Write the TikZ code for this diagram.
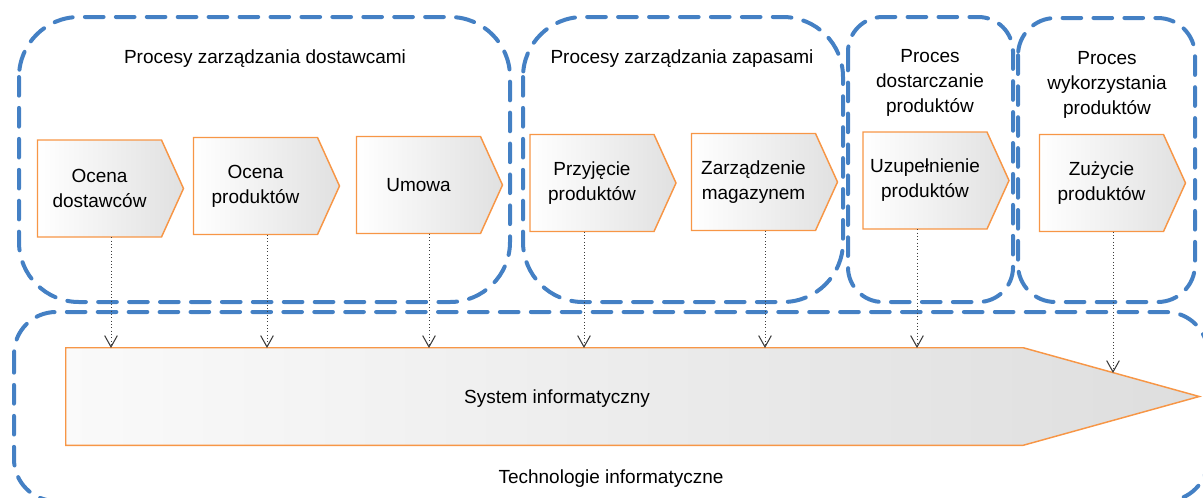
\documentclass[tikz,border=0pt]{standalone}
\usepackage{fontspec}
\setmainfont{Liberation Sans}
\usetikzlibrary{arrows.meta}

\definecolor{grpblue}{RGB}{68,128,196}
\definecolor{stepline}{RGB}{247,150,70}
\definecolor{linkgray}{RGB}{60,60,60}

\tikzset{
  grp/.style={draw=grpblue, line width=3pt, line cap=round,
              dash pattern=on 14pt off 9.2pt},
  title/.style={font=\fontsize{14.25}{18.75}\selectfont, align=center, inner sep=0pt},
  stepshape/.style={draw=stepline, line width=1.1pt, line join=miter,
                    left color=white, right color=black!12},
  sysshape/.style={draw=stepline, line width=1.1pt, line join=miter,
                   left color=black!2, right color=black!13},
  steptext/.style={title, minimum width=93pt, minimum height=72.75pt},
  link/.style={draw=linkgray, line width=0.7pt, dash pattern=on 0.7pt off 1.8pt,
               -{Straight Barb[length=8.5pt,width=9.5pt,line width=0.8pt]}},
}

% process step: chevron body centred at (#2,#3), 124 x 97 units, pointer 22 units
\newcommand\procstep[4]{%
  \path[stepshape] (#2-62,#3-48.5) -- (#2+62,#3-48.5) -- (#2+84,#3)
        -- (#2+62,#3+48.5) -- (#2-62,#3+48.5) -- cycle;
  \node[steptext] (#1) at (#2,#3) {#4};%
}

\begin{document}
\begin{tikzpicture}[x=0.75pt,y=-0.75pt]
\useasboundingbox (0,0) rectangle (1203,497);
\clip (0,0) rectangle (1203,497);

% process groups
\draw[grp, rounded corners=45pt] (19,17) rectangle (510,302);
\draw[grp, rounded corners=45pt] (523,17) rectangle (843,302);
\draw[grp, rounded corners=26pt] (848,17) rectangle (1013,302);
\draw[grp, rounded corners=28pt] (1018,18) rectangle (1195,302);
\draw[grp, rounded corners=31.5pt] (14,312) rectangle (1208,501);

% group titles
\node[title, anchor=base] (g1) at (265,63) {Procesy zarządzania dostawcami};
\node[title, anchor=base] (g2) at (682,63) {Procesy zarządzania zapasami};
\node[title] (g3) at (930,83) {Proces\\dostarczanie\\produktów};
\node[title] (g4) at (1107,85) {Proces\\wykorzystania\\produktów};
\node[title, anchor=base] (g5) at (611,483) {Technologie informatyczne};

% process steps
\procstep{c1}{99.5}{188.5}{Ocena\\dostawców}
\procstep{c2}{255.5}{186}{Ocena\\produktów}
\procstep{c3}{418.5}{185}{Umowa}
\procstep{c4}{592}{183}{Przyjęcie\\produktów}
\procstep{c5}{753.5}{182}{Zarządzenie\\magazynem}
\procstep{c6}{925}{180.5}{Uzupełnienie\\produktów}
\procstep{c7}{1101.5}{183}{Zużycie\\produktów}

% information system arrow
\node[minimum width=717.75pt, minimum height=72.75pt, inner sep=0pt] (sys) at (544.5,396.5) {};
\path[sysshape] (sys.north west) -- (sys.north east) -- ([xshift=132pt]sys.east)
      -- (sys.south east) -- (sys.south west) -- cycle;
\node[title, anchor=base] (systxt) at (557,403) {System informatyczny};

% connector ends on the system arrow
\coordinate (a1) at (111,348);
\coordinate (a2) at (267,348);
\coordinate (a3) at (429,348);
\coordinate (a4) at (584,348);
\coordinate (a5) at (765,348);
\coordinate (a6) at (917,348);
\coordinate (a7) at (1113,373);

\foreach \i in {1,...,7}{
  \draw[link] (c\i.south -| a\i) -- (a\i);
}
\end{tikzpicture}
\end{document}
